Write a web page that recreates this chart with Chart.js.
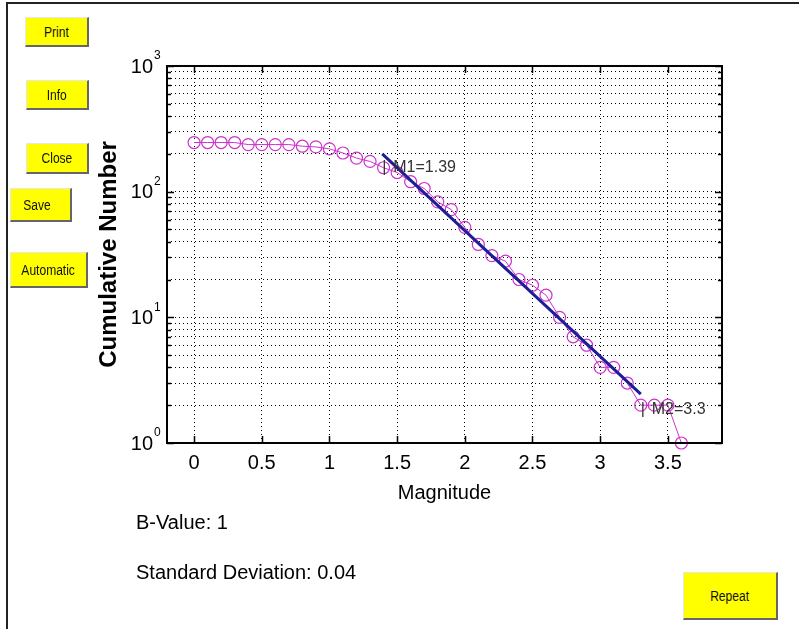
<!DOCTYPE html>
<html>
<head>
<meta charset="utf-8">
<script src="https://cdn.jsdelivr.net/npm/chart.js@4.4.1/dist/chart.umd.min.js"></script>
<style>
  html, body { margin: 0; padding: 0; background: #fff; }
  #page { position: relative; width: 799px; height: 629px; overflow: hidden; font-family: "Liberation Sans", Arial, sans-serif; }
  #frame { position: absolute; left: 6px; top: 2px; width: 820px; height: 660px; border-left: 2px solid #222; border-top: 2px solid #222; }
  canvas { position: absolute; left: 0; top: 0; }
  .btn { position: absolute; background: #ffff00; color: #111; font-size: 14px; box-sizing: border-box;
         border-top: 1px solid #e6e6e6; border-left: 1px solid #e6e6e6; border-right: 2px solid #666; border-bottom: 2px solid #666;
         display: flex; align-items: center; justify-content: center; }
  .btn span { display: inline-block; transform: scaleX(0.86); }
  .info { position: absolute; left: 136px; font-size: 20px; color: #000; line-height: 24px; }
</style>
</head>
<body>
<div id="page">
  <div id="frame"></div>
  <canvas id="bplot" width="799" height="629"></canvas>
  <div class="btn" style="left:25px;top:17px;width:64px;height:30px;"><span>Print</span></div>
  <div class="btn" style="left:26px;top:80px;width:63px;height:30px;"><span>Info</span></div>
  <div class="btn" style="left:26px;top:143px;width:63px;height:31px;"><span>Close</span></div>
  <div class="btn" style="left:10px;top:188px;width:62px;height:34px;justify-content:flex-start;padding-left:10px;"><span>Save</span></div>
  <div class="btn" style="left:10px;top:252px;width:78px;height:36px;"><span>Automatic</span></div>
  <div class="btn" style="left:683px;top:572px;width:95px;height:48px;"><span>Repeat</span></div>
  <div class="info" style="top:510px;">B-Value: 1</div>
  <div class="info" style="top:560px;">Standard Deviation: 0.04</div>
</div>
<script>
const magnitudes = [0, 0.1, 0.2, 0.3, 0.4, 0.5, 0.6, 0.7, 0.8, 0.9, 1.0, 1.1, 1.2, 1.3, 1.4, 1.5, 1.6, 1.7, 1.8,
                    1.9, 2.0, 2.1, 2.2, 2.3, 2.4, 2.5, 2.6, 2.7, 2.8, 2.9, 3.0, 3.1, 3.2, 3.3, 3.4, 3.5, 3.6];
const cumulative = [246, 246, 246, 246, 237, 237, 237, 237, 230, 227, 219, 203, 185, 174, 155, 142, 120, 106, 83,
                    72, 52, 38, 31, 28, 20, 18, 15, 10, 7, 6, 4, 4, 3, 2, 2, 2, 1];

// straight fit between the two cut-off magnitudes
const fitM = [1.39, 3.3];
const fitN = [200, 2.45];

const markM = [1.39, 3.3];
const markN = [155, 1.85];
const markText = ['M1=1.39', 'M2=3.3'];

const xTicks = [0, 0.5, 1, 1.5, 2, 2.5, 3, 3.5];
const yExponents = [0, 1, 2, 3];

const FONT = '"Liberation Sans", Arial, sans-serif';

// 1..9, 10..90, 100..900, 1000 for the log grid
const yGrid = [];
for (let e = 0; e < 3; e++) {
    for (let k = 1; k < 10; k++) yGrid.push(k * Math.pow(10, e));
}
yGrid.push(1000);

const matlabAxes = {
    id: 'matlabAxes',
    afterDraw(chart) {
        const ctx = chart.ctx;
        const a = chart.chartArea;
        const xs = chart.scales.x, ys = chart.scales.y;
        ctx.save();
        ctx.strokeStyle = '#000';
        ctx.lineWidth = 1.5;
        ctx.beginPath();
        xTicks.forEach(function (v) {
            const px = Math.round(xs.getPixelForValue(v)) + 0.5;
            ctx.moveTo(px, a.bottom); ctx.lineTo(px, a.bottom - 7);
            ctx.moveTo(px, a.top); ctx.lineTo(px, a.top + 7);
        });
        yGrid.forEach(function (v) {
            const py = Math.round(ys.getPixelForValue(v)) + 0.5;
            const len = Number.isInteger(Math.log10(v)) ? 7 : 4;
            ctx.moveTo(a.left, py); ctx.lineTo(a.left + len, py);
            ctx.moveTo(a.right, py); ctx.lineTo(a.right - len, py);
        });
        ctx.stroke();
        ctx.lineWidth = 2;
        ctx.strokeRect(a.left, a.top, a.right - a.left, a.bottom - a.top);

        // y labels as 10 with a raised exponent
        ctx.fillStyle = '#000';
        yExponents.forEach(function (e) {
            const py = ys.getPixelForValue(Math.pow(10, e));
            ctx.font = '20px ' + FONT;
            ctx.textAlign = 'right';
            ctx.textBaseline = 'middle';
            ctx.fillText('10', a.left - 14, py + 1);
            ctx.font = '12px ' + FONT;
            ctx.textAlign = 'left';
            ctx.fillText(String(e), a.left - 13, py - 10);
        });

        // cut-off markers
        ctx.fillStyle = '#333';
        ctx.font = '16px ' + FONT;
        ctx.textBaseline = 'middle';
        markM.forEach(function (m, i) {
            const px = xs.getPixelForValue(m);
            const py = ys.getPixelForValue(markN[i]);
            ctx.textAlign = 'left';
            ctx.fillText('|', px, py);
            ctx.fillText(markText[i], px + 11, py);
        });
        ctx.restore();
    }
};

new Chart(document.getElementById('bplot'), {
    type: 'line',
    data: {
        datasets: [{
            label: 'fit',
            data: fitM.map(function (m, i) { return {x: m, y: fitN[i]}; }),
            borderColor: '#1d1d98',
            borderWidth: 3,
            pointRadius: 0,
            order: 0
        }, {
            label: 'cumulative',
            data: magnitudes.map(function (m, i) { return {x: m, y: cumulative[i]}; }),
            borderColor: '#cc33cc',
            borderWidth: 1,
            pointRadius: 6,
            pointBorderWidth: 1.2,
            pointBorderColor: '#cc33cc',
            pointBackgroundColor: 'rgba(0,0,0,0)',
            clip: false,
            order: 1
        }]
    },
    options: {
        responsive: false,
        animation: false,
        devicePixelRatio: 1,
        layout: {padding: {top: 66, right: 77, left: 0, bottom: 0}},
        plugins: {legend: {display: false}, tooltip: {enabled: false}},
        scales: {
            x: {
                type: 'linear',
                min: -0.2,
                max: 3.9,
                afterBuildTicks: function (s) { s.ticks = xTicks.map(function (v) { return {value: v}; }); },
                afterFit: function (s) { s.height = 186; },
                grid: {color: '#000', lineWidth: 1, drawTicks: false},
                border: {display: false, dash: [1, 3]},
                ticks: {color: '#000', font: {family: FONT, size: 20}, padding: 8, autoSkip: false, maxRotation: 0,
                        callback: function (v) { return String(v); }},
                title: {display: true, text: 'Magnitude', color: '#000', font: {family: FONT, size: 20},
                        padding: {top: 0, bottom: 124}}
            },
            y: {
                type: 'logarithmic',
                min: 1,
                max: 1000,
                afterBuildTicks: function (s) { s.ticks = yGrid.map(function (v) { return {value: v}; }); },
                afterFit: function (s) { s.width = 167; },
                grid: {color: '#000', lineWidth: 1, drawTicks: false},
                border: {display: false, dash: [1, 3]},
                ticks: {display: false},
                title: {display: true, text: 'Cumulative Number', color: '#000',
                        font: {family: FONT, size: 24, weight: 'bold'}, padding: {top: 95, bottom: 0}}
            }
        }
    },
    plugins: [matlabAxes]
});
</script>
</body>
</html>
